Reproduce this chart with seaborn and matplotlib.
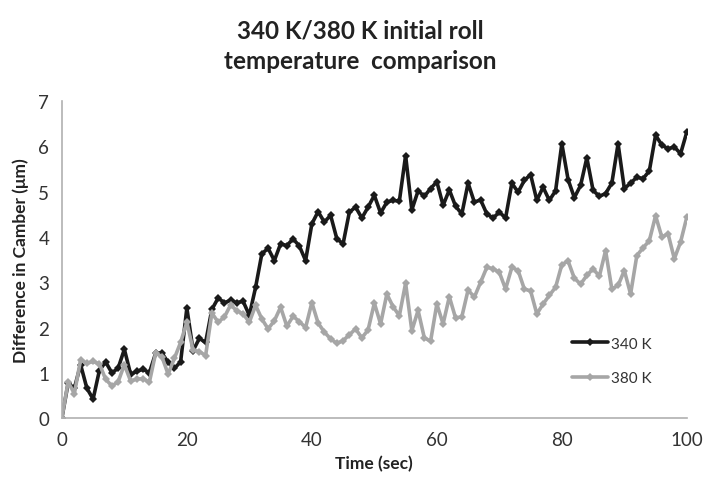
import matplotlib
matplotlib.use("Agg")
import matplotlib.pyplot as plt
import seaborn as sns
import pandas as pd
from matplotlib.lines import Line2D

time_sec = list(range(101))
k340 = [0, 0.77, 0.66, 1.18, 0.66, 0.42, 1.05, 1.24, 1.0, 1.1,
        1.52, 0.97, 1.03, 1.08, 1.0, 1.43, 1.44, 1.23, 1.1, 1.24,
        2.43, 1.49, 1.76, 1.67, 2.4, 2.65, 2.55, 2.6, 2.55, 2.58,
        2.27, 2.89, 3.63, 3.75, 3.48, 3.85, 3.81, 3.96, 3.8, 3.48,
        4.29, 4.56, 4.33, 4.48, 3.96, 3.85, 4.55, 4.66, 4.42, 4.66,
        4.92, 4.53, 4.77, 4.81, 4.79, 5.8, 4.6, 5.02, 4.9, 5.07,
        5.22, 4.7, 5.04, 4.68, 4.51, 5.19, 4.77, 4.82, 4.51, 4.42,
        4.55, 4.42, 5.19, 4.99, 5.25, 5.38, 4.81, 5.1, 4.81, 5.02,
        6.06, 5.27, 4.87, 5.14, 5.75, 5.03, 4.9, 4.96, 5.19, 6.06,
        5.07, 5.19, 5.32, 5.29, 5.46, 6.25, 6.03, 5.95, 5.99, 5.84,
        6.32]
k380 = [0, 0.8, 0.54, 1.29, 1.21, 1.25, 1.2, 0.86, 0.71, 0.8,
        1.18, 0.82, 0.86, 0.87, 0.79, 1.43, 1.36, 0.97, 1.32, 1.67,
        2.12, 1.5, 1.47, 1.38, 2.32, 2.12, 2.23, 2.5, 2.37, 2.3,
        2.12, 2.49, 2.19, 1.97, 2.15, 2.45, 2.03, 2.25, 2.13, 2.0,
        2.55, 2.1, 1.9, 1.75, 1.65, 1.71, 1.84, 1.97, 1.77, 1.95,
        2.54, 2.08, 2.74, 2.46, 2.26, 2.98, 1.93, 2.38, 1.77, 1.7,
        2.52, 2.08, 2.68, 2.21, 2.24, 2.83, 2.67, 3.0, 3.33, 3.3,
        3.22, 2.85, 3.33, 3.26, 2.85, 2.81, 2.3, 2.52, 2.71, 2.89,
        3.39, 3.47, 3.09, 2.96, 3.15, 3.3, 3.13, 3.7, 2.85, 2.93,
        3.26, 2.74, 3.59, 3.76, 3.92, 4.47, 4.0, 4.07, 3.52, 3.89,
        4.44]
series_names = ["340 K", "380 K"]
x_ticks = [0, 20, 40, 60, 80, 100]
y_ticks = [0, 1, 2, 3, 4, 5, 6, 7]

df = pd.DataFrame({
    "Time": time_sec * 2,
    "Value": k340 + k380,
    "Series": [series_names[0]] * len(time_sec) + [series_names[1]] * len(time_sec),
})

sns.set_style("white")
plt.rcParams["font.family"] = ["Lato", "DejaVu Sans"]

fig = plt.figure(figsize=(7.03, 4.89), dpi=100)
ax = fig.add_axes([0.088, 0.143, 0.889, 0.648])

palette = {"340 K": "#1a1a1a", "380 K": "#a6a6a6"}
sns.lineplot(data=df, x="Time", y="Value", hue="Series", palette=palette,
             marker="D", markersize=4, markeredgewidth=0, linewidth=2.6,
             ax=ax, legend=False)

ax.set_xlim(0, 100)
ax.set_ylim(0, 7)
ax.set_xticks(x_ticks)
ax.set_yticks(y_ticks)
ax.tick_params(axis="both", labelsize=13.5, colors="#333333", length=5,
               width=1, direction="out", pad=4)
ax.tick_params(axis="both", color="#b0b0b0")
for s in ["top", "right"]:
    ax.spines[s].set_visible(False)
for s in ["left", "bottom"]:
    ax.spines[s].set_color("#b0b0b0")
    ax.spines[s].set_linewidth(1.2)

ax.set_xlabel("Time (sec)", fontsize=12.5, fontweight="bold", color="#222222", labelpad=5)
ax.set_ylabel("Difference in Camber (\u03bcm)", fontsize=12.5, fontweight="bold",
              color="#222222", labelpad=7)

fig.text(0.512, 0.937, "340 K/380 K initial roll", ha="center", va="center",
         fontsize=17.5, fontweight="bold", color="#222222")
fig.text(0.512, 0.875, "temperature  comparison", ha="center", va="center",
         fontsize=17.5, fontweight="bold", color="#222222")

handles = [Line2D([], [], color=palette[n], linewidth=2.6, marker="D",
                  markersize=4, markeredgewidth=0) for n in series_names]
ax.legend(handles, series_names, loc="center left", bbox_to_anchor=(0.795, 0.18),
          frameon=False, fontsize=11, handlelength=2.3, labelspacing=1.35,
          handletextpad=0.2, labelcolor="#333333")

fig.savefig("out.png", dpi=100)
